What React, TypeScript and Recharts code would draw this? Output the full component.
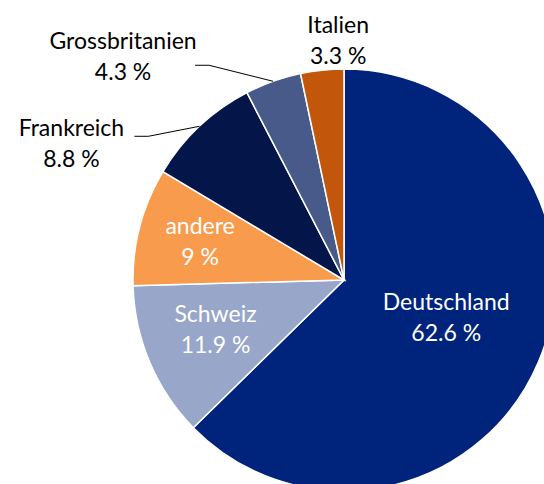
import React from "react";
import { Pie, PieChart, Cell } from "recharts";

const countries = ["Deutschland", "Schweiz", "andere", "Frankreich", "Grossbritanien", "Italien"];
const shares = [62.6, 11.9, 9, 8.8, 4.3, 3.3];
const shareLabels = ["62.6 %", "11.9 %", "9 %", "8.8 %", "4.3 %", "3.3 %"];
const COLORS = ["#00237b", "#97a6c9", "#f99b4d", "#031549", "#485a8a", "#c2570b"];

// label placement: point on radius rf at the slice middle, shifted by dx/dy
const labelPos = [
  { rf: 0.51, dx: 3, dy: -4, fill: "#fff" },
  { rf: 0.651, dx: -2, dy: -4, fill: "#fff" },
  { rf: 0.705, dx: 0, dy: 0, fill: "#fff" },
  { rf: 1, dx: -128, dy: 18, fill: "#000", line: [[-51, 10], [-65, 10]] },
  { rf: 1, dx: -150, dy: -24, fill: "#000", line: [[-64, -16], [-78, -16]] },
  { rf: 1, dx: 16, dy: -29, fill: "#000" },
];

const data = countries.map((name, i) => ({ name, value: shares[i], pct: shareLabels[i] }));

const RADIAN = Math.PI / 180;

const renderLabel = ({ cx, cy, midAngle, outerRadius, index }) => {
  const p = labelPos[index];
  const ex = cx + outerRadius * p.rf * Math.cos(-midAngle * RADIAN);
  const ey = cy + outerRadius * p.rf * Math.sin(-midAngle * RADIAN);
  const x = ex + p.dx;
  const y = ey + p.dy;
  return (
    <g key={`lbl-${index}`}>
      {p.line && (
        <polyline
          points={`${ex},${ey} ${ex + p.line[0][0]},${ey + p.line[0][1]} ${ex + p.line[1][0]},${ey + p.line[1][1]}`}
          fill="none"
          stroke="#000"
          strokeWidth={1}
        />
      )}
      <text x={x} y={y} fill={p.fill} textAnchor="middle" fontSize={23} fontFamily="Lato, sans-serif">
        <tspan x={x} dy={-8}>{data[index].name}</tspan>
        <tspan x={x} dy={31}>{data[index].pct}</tspan>
      </text>
    </g>
  );
};

export default function App() {
  return (
    <div style={{ position: "absolute", left: 0, top: 0 }}>
      <PieChart width={544} height={484} margin={{ top: 0, right: 0, bottom: 0, left: 0 }}>
        <Pie
          data={data}
          dataKey="value"
          cx={344}
          cy={280}
          outerRadius={211}
          startAngle={90}
          endAngle={-270}
          stroke="#fff"
          strokeWidth={1.5}
          label={renderLabel}
          labelLine={false}
          isAnimationActive={false}
        >
          {data.map((entry, index) => (
            <Cell key={entry.name} fill={COLORS[index]} />
          ))}
        </Pie>
      </PieChart>
    </div>
  );
}
